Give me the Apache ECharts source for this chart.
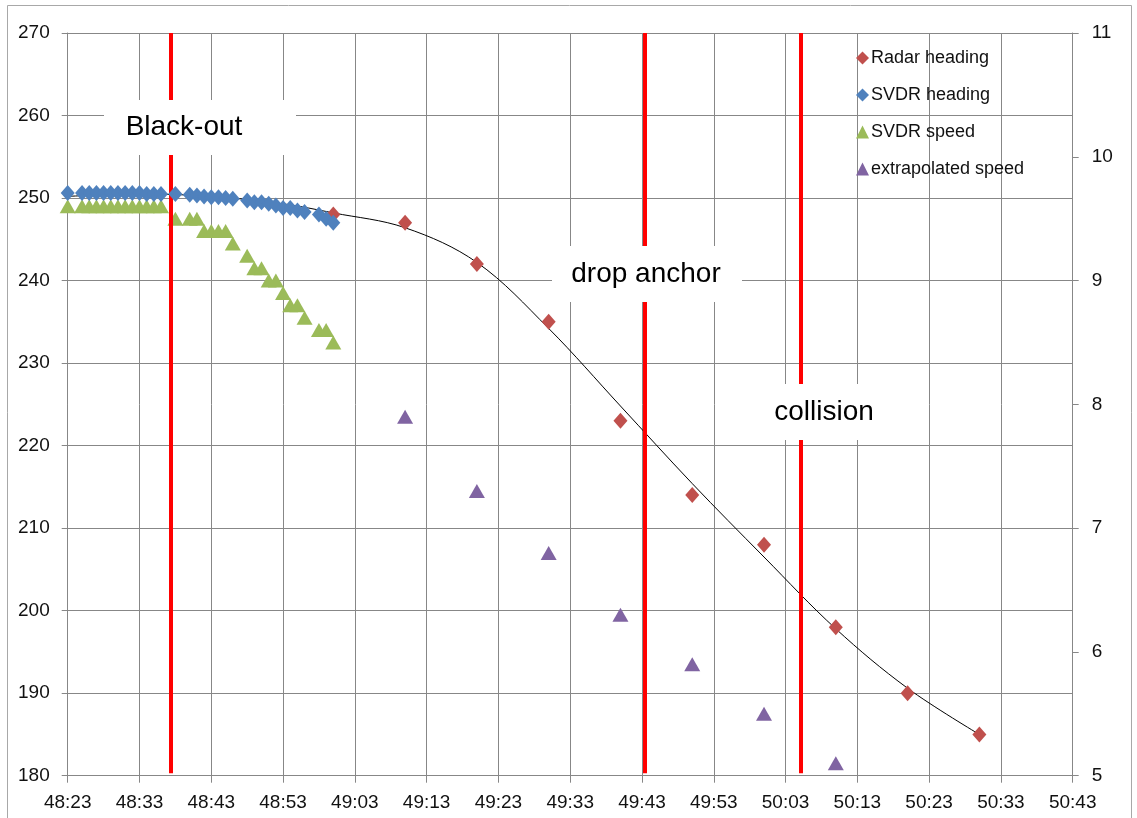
<!DOCTYPE html>
<html>
<head>
<meta charset="utf-8">
<script src="https://cdn.jsdelivr.net/npm/echarts@6/dist/echarts.min.js"></script>
<style>
  html, body { margin: 0; padding: 0; background: #ffffff; }
  #chart { width: 1137px; height: 818px; }
</style>
</head>
<body>
<div id="chart"></div>
<script>
// Time axis: ticks every 10 s from 48:23 to 50:43 (mm:ss)
const xTickLabels = ['48:23','48:33','48:43','48:53','49:03','49:13','49:23',
                     '49:33','49:43','49:53','50:03','50:13','50:23','50:33','50:43'];

// SVDR samples: time, heading (deg), speed (kn)
const svdrTimes = ['48:23','48:25','48:26','48:27','48:28','48:29','48:30','48:31',
                   '48:32','48:33','48:34','48:35','48:36','48:38','48:40','48:41',
                   '48:42','48:43','48:44','48:45','48:46','48:48','48:49','48:50',
                   '48:51','48:52','48:53','48:54','48:55','48:56','48:58','48:59','49:00'];
const svdrHeading = [250.6,250.6,250.6,250.6,250.6,250.6,250.6,250.6,
                     250.6,250.6,250.5,250.5,250.5,250.5,250.4,250.3,
                     250.2,250.1,250.1,250.0,249.9,249.7,249.5,249.5,
                     249.3,249.1,248.8,248.8,248.5,248.3,248.0,247.5,247.0];
const svdrSpeed   = [9.6,9.6,9.6,9.6,9.6,9.6,9.6,9.6,
                     9.6,9.6,9.6,9.6,9.6,9.5,9.5,9.5,
                     9.4,9.4,9.4,9.4,9.3,9.2,9.1,9.1,
                     9.0,9.0,8.9,8.8,8.8,8.7,8.6,8.6,8.5];

// Radar heading and extrapolated speed, every 10 s
const radarTimes   = ['49:00','49:10','49:20','49:30','49:40','49:50','50:00','50:10','50:20','50:30'];
const radarHeading = [248,247,242,235,223,214,208,198,190,185];
const extrapTimes  = ['49:10','49:20','49:30','49:40','49:50','50:00','50:10'];
const extrapSpeed  = [7.9,7.3,6.8,6.3,5.9,5.5,5.1];

// Heading trend curve
const trendTimes   = ['48:23','48:33','48:43','48:53','49:00','49:10','49:20',
                      '49:30','49:40','49:50','50:00','50:10','50:20','50:30'];
const trendHeading = [250.2,250.5,250.2,249.3,248.2,246.4,242.2,
                      234.2,224.8,215.4,206.5,197.8,190.6,185.0];

// Event markers
const eventNames = ['Black-out','drop anchor','collision'];
const eventTimes = ['48:37.4','49:43.4','50:05.1'];

const tickStep = 10;
function toSec(s) {
  const p = s.split(':');
  return parseInt(p[0], 10) * 60 + parseFloat(p[1]);
}
const t0 = toSec(xTickLabels[0]);
const rel = s => +(toSec(s) - t0).toFixed(2);
const pairs = (ts, vs) => ts.map((t, i) => [rel(t), vs[i]]);

const axisGray = '#878787';
const labelStyle = { color: '#111', fontSize: 19, fontFamily: 'Liberation Sans, Arial, sans-serif' };

const chart = echarts.init(document.getElementById('chart'), null, { renderer: 'canvas' });

const option = {
  animation: false,
  backgroundColor: '#ffffff',
  grid: { left: 67.7, right: 64.3, top: 33, bottom: 42.3, containLabel: false },
  legend: {
    orient: 'vertical',
    left: 851, top: 44,
    itemWidth: 13, itemHeight: 13, itemGap: 19,
    data: ['Radar heading','SVDR heading','SVDR speed','extrapolated speed'],
    textStyle: { color: '#111', fontSize: 18, fontFamily: 'Liberation Sans, Arial, sans-serif', padding: [0,0,0,-3] }
  },
  xAxis: {
    type: 'value',
    min: 0, max: (xTickLabels.length - 1) * tickStep, interval: tickStep,
    axisLine: { lineStyle: { color: axisGray, width: 1 } },
    axisTick: { show: true, inside: false, length: 7, lineStyle: { color: axisGray } },
    splitLine: { show: true, lineStyle: { color: axisGray, width: 1 } },
    axisLabel: Object.assign({ margin: 18, formatter: v => xTickLabels[Math.round(v / tickStep)] }, labelStyle)
  },
  yAxis: [
    {
      type: 'value', min: 180, max: 270, interval: 10, position: 'left',
      axisLine: { show: true, lineStyle: { color: axisGray } },
      axisTick: { show: true, inside: false, length: 6, lineStyle: { color: axisGray } },
      splitLine: { show: true, lineStyle: { color: axisGray, width: 1 } },
      axisLabel: Object.assign({ margin: 18 }, labelStyle)
    },
    {
      type: 'value', min: 5, max: 11, interval: 1, position: 'right',
      axisLine: { show: true, lineStyle: { color: axisGray } },
      axisTick: { show: true, inside: false, length: 6, lineStyle: { color: axisGray } },
      splitLine: { show: false },
      axisLabel: Object.assign({ margin: 19 }, labelStyle)
    }
  ],
  series: [
    {
      name: 'trend', type: 'line', yAxisIndex: 0,
      data: pairs(trendTimes, trendHeading),
      smooth: 0.35, showSymbol: false, symbol: 'none',
      lineStyle: { color: '#000000', width: 1 }, z: 3, silent: true
    },
    {
      name: 'SVDR speed', type: 'scatter', yAxisIndex: 1,
      data: pairs(svdrTimes, svdrSpeed),
      symbol: 'triangle', symbolSize: [16, 14],
      itemStyle: { color: '#9BBB59', opacity: 1 }, z: 4
    },
    {
      name: 'extrapolated speed', type: 'scatter', yAxisIndex: 1,
      data: pairs(extrapTimes, extrapSpeed),
      symbol: 'triangle', symbolSize: [16, 14],
      itemStyle: { color: '#8064A2', opacity: 1 }, z: 4
    },
    {
      name: 'SVDR heading', type: 'scatter', yAxisIndex: 0,
      data: pairs(svdrTimes, svdrHeading),
      symbol: 'diamond', symbolSize: [14, 16],
      itemStyle: { color: '#4F81BD', opacity: 1 }, z: 5
    },
    {
      name: 'Radar heading', type: 'scatter', yAxisIndex: 0,
      data: pairs(radarTimes, radarHeading),
      symbol: 'diamond', symbolSize: [14, 16],
      itemStyle: { color: '#C0504D', opacity: 1 }, z: 4,
      markLine: {
        silent: true, symbol: 'none', animation: false,
        label: { show: false },
        lineStyle: { color: '#FF0000', width: 4, type: 'solid', opacity: 1 },
        data: eventTimes.map(t => [{ xAxis: rel(t), yAxis: 180.3 }, { xAxis: rel(t), yAxis: 270 }])
      }
    }
  ]
};
chart.setOption(option);

// Event captions on white panels
const captions = [
  { box: [104, 100, 192, 55], cx: 184, cy: 127 },
  { box: [552, 246, 190, 56], cx: 646, cy: 274 },
  { box: [757, 384, 134, 56], cx: 824, cy: 412 }
];
const graphics = [
  { type: 'rect', shape: { x: 7.5, y: 5.5, width: 1124, height: 840 },
    style: { fill: 'none', stroke: '#a8a8a8', lineWidth: 1 }, z: 0, silent: true }
];
captions.forEach((c, i) => {
  graphics.push({
    type: 'rect', shape: { x: c.box[0], y: c.box[1], width: c.box[2], height: c.box[3] },
    style: { fill: '#ffffff' }, z: 100, silent: true
  });
  graphics.push({
    type: 'text', x: c.cx, y: c.cy, z: 101, silent: true,
    style: { text: eventNames[i], fill: '#000', fontSize: 28,
             fontFamily: 'Liberation Sans, Arial, sans-serif',
             textAlign: 'center', textVerticalAlign: 'middle' }
  });
});
chart.setOption({ graphic: graphics });
</script>
</body>
</html>
